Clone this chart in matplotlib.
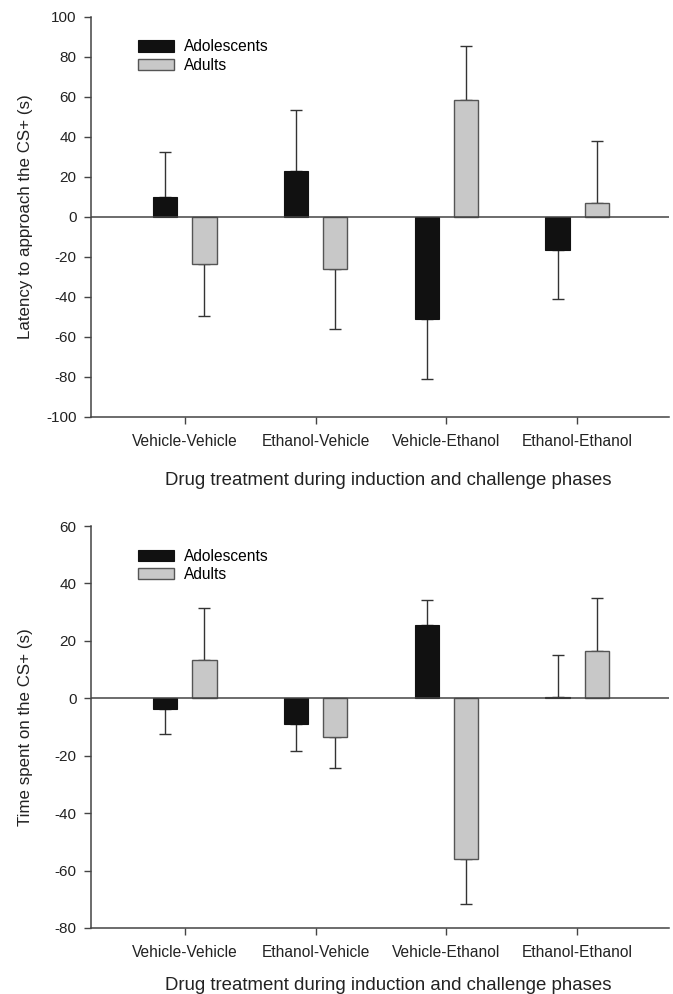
import numpy as np
import matplotlib
matplotlib.use("Agg")
import matplotlib.pyplot as plt

plt.rcParams['font.family'] = ['Liberation Sans', 'DejaVu Sans']
plt.rcParams['axes.unicode_minus'] = False

groups = ["Vehicle-Vehicle", "Ethanol-Vehicle", "Vehicle-Ethanol", "Ethanol-Ethanol"]

# latency to approach the CS+
lat_adol = [10.2, 22.8, -50.8, -16.7]
lat_adol_err = [22.3, 30.5, 30.0, 24.1]
lat_adult = [-23.3, -26.0, 58.7, 7.2]
lat_adult_err = [26.0, 30.0, 27.0, 30.8]

# time spent on the CS+
time_adol = [-3.7, -9.1, 25.6, 0.4]
time_adol_err = [8.9, 9.4, 8.8, 14.7]
time_adult = [13.3, -13.5, -55.8, 16.3]
time_adult_err = [18.3, 10.8, 15.9, 18.6]

x = np.arange(1, len(groups) + 1)
w = 0.187
off = 0.15
edge = '#333333'


def one_sided(vals, errs):
    vals = np.array(vals)
    errs = np.array(errs)
    lo = np.where(vals < 0, errs, 0)
    hi = np.where(vals >= 0, errs, 0)
    return [lo, hi]


def panel(ax, adol, adol_err, adult, adult_err, ylim, yticks, ylabel, xlab_y):
    ax.bar(x - off, adol, w, color='#111111', edgecolor='#111111', lw=0.8,
           zorder=3, label='Adolescents')
    ax.bar(x + off, adult, w, color='#c8c8c8', edgecolor='#555555', lw=1.0,
           zorder=3, label='Adults')
    ax.errorbar(x - off, adol, yerr=one_sided(adol, adol_err), fmt='none',
                ecolor=edge, elinewidth=1, capsize=4.3, capthick=1, zorder=2)
    ax.errorbar(x + off, adult, yerr=one_sided(adult, adult_err), fmt='none',
                ecolor=edge, elinewidth=1, capsize=4.3, capthick=1, zorder=2)
    ax.axhline(0, color='#444444', lw=1.1, zorder=4)

    ax.set_xlim(0.284, 4.70)
    ax.set_ylim(*ylim)
    ax.set_yticks(yticks)
    ax.set_xticks(x)
    ax.set_xticklabels(groups, fontsize=11.2, color='#222222')
    ax.tick_params(axis='y', labelsize=11, labelcolor='#222222', pad=5.5)
    ax.tick_params(axis='x', pad=7)
    ax.tick_params(direction='out', length=5, width=1, color='#444444')
    for s in ['top', 'right']:
        ax.spines[s].set_visible(False)
    for s in ['left', 'bottom']:
        ax.spines[s].set_color('#444444')
        ax.spines[s].set_linewidth(1.1)

    ax.set_ylabel(ylabel, fontsize=12.2, color='#222222')
    ax.yaxis.set_label_coords(-0.1, 0.5)
    ax.set_xlabel("Drug treatment during induction and challenge phases",
                  fontsize=13.4, color='#222222')
    ax.xaxis.set_label_coords(0.514, xlab_y)

    ax.legend(loc='upper left', bbox_to_anchor=(0.081, 0.944), frameon=False,
              fontsize=11.2, handlelength=2.35, handleheight=0.72,
              handletextpad=0.64, labelspacing=0.2, borderpad=0,
              borderaxespad=0)


fig = plt.figure(figsize=(6.73, 9.94), dpi=100)
ax1 = fig.add_axes([0.1352, 0.5805, 0.8588, 0.4024])
ax2 = fig.add_axes([0.1352, 0.0664, 0.8588, 0.4044])

panel(ax1, lat_adol, lat_adol_err, lat_adult, lat_adult_err,
      (-100, 100), np.arange(-100, 101, 20), "Latency to approach the CS+ (s)",
      -0.138)
panel(ax2, time_adol, time_adol_err, time_adult, time_adult_err,
      (-80, 60), np.arange(-80, 61, 20), "Time spent on the CS+ (s)",
      -0.123)

fig.savefig("out.png", dpi=100)
